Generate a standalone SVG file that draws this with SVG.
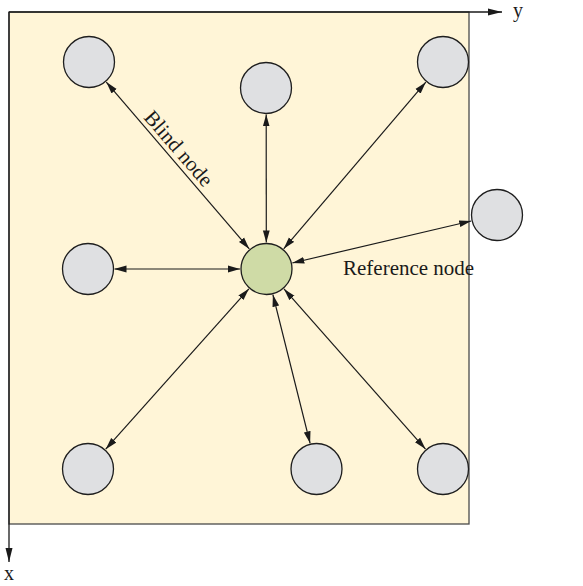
<svg xmlns="http://www.w3.org/2000/svg" width="583" height="586" viewBox="0 0 583 586">
  <style>
    .field { fill: #fff5d7; stroke: #4a4a4a; stroke-width: 1.3; }
    .axis { stroke: #1a1a1a; stroke-width: 1.3; fill: none; }
    .blind { fill: #dfe0e2; stroke: #1e1e1e; stroke-width: 1.3; }
    .ref { fill: #cfdba6; stroke: #1e1e1e; stroke-width: 1.3; }
    .link { stroke: #1a1a1a; stroke-width: 1.2; fill: none; marker-start: url(#head); marker-end: url(#head); }
    .label { font-family: "Liberation Serif", "Times New Roman", serif; font-size: 20px; fill: #1a1a1a; }
    .name { font-size: 21px; }
  </style>
  <defs>
    <marker id="head" viewBox="0 0 12 8" refX="12" refY="4" markerWidth="12" markerHeight="8" markerUnits="userSpaceOnUse" orient="auto-start-reverse">
      <path d="M0,0.6 L12,4 L0,7.4 z" fill="#1a1a1a"/>
    </marker>
    <marker id="axisHead" viewBox="0 0 14 8" refX="14" refY="4" markerWidth="14" markerHeight="8" markerUnits="userSpaceOnUse" orient="auto">
      <path d="M0,0.5 L14,4 L0,7.5 z" fill="#1a1a1a"/>
    </marker>
  </defs>

  <!-- sensing field -->
  <rect class="field" x="9" y="12" width="460" height="512"/>

  <!-- coordinate axes -->
  <g id="axes">
    <line class="axis" x1="9" y1="12" x2="502" y2="12" marker-end="url(#axisHead)"/>
    <line class="axis" x1="9" y1="12" x2="9" y2="562" marker-end="url(#axisHead)"/>
    <text class="label" x="513" y="17">y</text>
    <text class="label" x="4" y="580">x</text>
  </g>

  <!-- range links between the reference node and each blind node -->
  <g id="connectors">
    <line class="link" x1="249.3" y1="248.9" x2="106.3" y2="82.1"/>
    <line class="link" x1="266.3" y1="242.5" x2="266.2" y2="114.5"/>
    <line class="link" x1="283.7" y1="248.8" x2="425.8" y2="82.2"/>
    <line class="link" x1="292.3" y1="263" x2="471.2" y2="221"/>
    <line class="link" x1="240" y1="269" x2="114.5" y2="269"/>
    <line class="link" x1="248.9" y1="288.8" x2="105.7" y2="449.2"/>
    <line class="link" x1="272.9" y1="294.7" x2="310.1" y2="443.3"/>
    <line class="link" x1="284" y1="288.9" x2="425.5" y2="449.1"/>
  </g>

  <!-- blind nodes -->
  <g id="blind-top-left"><circle class="blind" cx="89" cy="62" r="25.5"/></g>
  <g id="blind-top-middle"><circle class="blind" cx="266" cy="88" r="25.5"/></g>
  <g id="blind-top-right"><circle class="blind" cx="443" cy="62" r="25.5"/></g>
  <g id="blind-right"><circle class="blind" cx="497" cy="215" r="25.5"/></g>
  <g id="blind-left"><circle class="blind" cx="88" cy="269" r="25.5"/></g>
  <g id="blind-bottom-left"><circle class="blind" cx="88" cy="469" r="25.5"/></g>
  <g id="blind-bottom-middle"><circle class="blind" cx="316.5" cy="469" r="25.5"/></g>
  <g id="blind-bottom-right"><circle class="blind" cx="443" cy="469" r="25.5"/></g>

  <!-- reference node -->
  <g id="reference-node"><circle class="ref" cx="266.5" cy="269" r="25.5"/></g>

  <!-- labels -->
  <text class="label name" transform="translate(143 118) rotate(49)">Blind node</text>
  <text class="label name" x="343" y="275">Reference node</text>
</svg>
